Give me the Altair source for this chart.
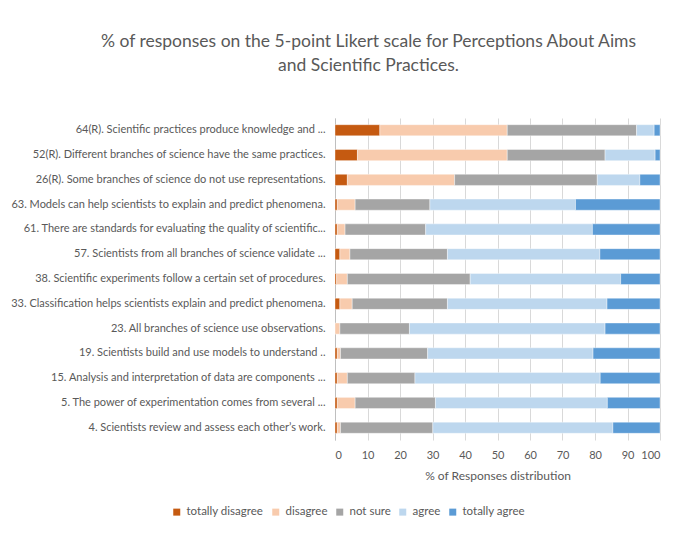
import altair as alt
import pandas as pd

items = [
    "64(R). Scientific practices produce knowledge and ...",
    "52(R). Different branches of science have the same practices.",
    "26(R). Some branches of science do not use representations.",
    "63. Models can help scientists to explain and predict phenomena.",
    "61. There are standards for evaluating the quality of scientific...",
    "57. Scientists from all branches of science validate ...",
    "38. Scientific experiments follow a certain set of procedures.",
    "33. Classification helps scientists explain and predict phenomena.",
    "23. All branches of science use observations.",
    "19. Scientists build and use models to understand ..",
    "15. Analysis and interpretation of data are components ...",
    "5. The power of experimentation comes from several ...",
    "4. Scientists review and assess each other\u2019s work.",
]
categories = ["totally disagree", "disagree", "not sure", "agree", "totally agree"]
colors = ["#C55A11", "#F8CBAD", "#A5A5A5", "#BDD7EE", "#5B9BD5"]

totally_disagree = [13.8, 6.9, 3.8, 0.7, 0.7, 1.5, 0.5, 1.5, 0.0, 0.7, 0.7, 0.7, 0.7]
disagree = [39.2, 46.1, 33.0, 5.5, 2.4, 3.1, 3.3, 3.8, 1.5, 1.0, 3.1, 5.5, 1.0]
not_sure = [39.8, 30.1, 43.9, 23.0, 24.8, 30.0, 37.8, 29.3, 21.4, 26.8, 20.8, 24.7, 28.4]
agree = [5.4, 15.4, 13.1, 44.8, 51.3, 46.9, 46.3, 49.1, 60.2, 50.9, 57.0, 52.9, 55.4]
totally_agree = [1.8, 1.5, 6.2, 26.0, 20.8, 18.5, 12.1, 16.3, 16.9, 20.6, 18.4, 16.2, 14.5]

series = [totally_disagree, disagree, not_sure, agree, totally_agree]
rows = []
for ci, (cat, vals) in enumerate(zip(categories, series)):
    for item, v in zip(items, vals):
        rows.append({"item": item, "response": cat, "value": v, "order": ci})
df = pd.DataFrame(rows)

FONT = "Lato"
GRAY = "#595959"

chart = (
    alt.Chart(df)
    .mark_bar(stroke="white", strokeWidth=0.4)
    .encode(
        x=alt.X(
            "value:Q",
            stack="zero",
            scale=alt.Scale(domain=[0, 100], nice=False),
            axis=alt.Axis(
                title="% of Responses distribution",
                values=list(range(0, 101, 10)),
                labelColor=GRAY,
                titleColor=GRAY,
                labelFont=FONT,
                titleFont=FONT,
                labelFontSize=11,
                titleFontSize=12,
                titleFontWeight="normal",
                domain=False,
                ticks=False,
                gridColor="#D9D9D9",
                labelPadding=9,
                titlePadding=10,
            ),
        ),
        y=alt.Y(
            "item:N",
            sort=items,
            scale=alt.Scale(paddingInner=0.55, paddingOuter=0.27),
            axis=alt.Axis(
                title=None,
                labelColor=GRAY,
                labelFont=FONT,
                labelFontSize=11,
                labelLimit=400,
                ticks=False,
                domainColor="#BFBFBF",
                labelPadding=10,
            ),
        ),
        color=alt.Color(
            "response:N",
            scale=alt.Scale(domain=categories, range=colors),
            sort=categories,
            legend=alt.Legend(
                title=None,
                orient="none",
                direction="horizontal",
                legendX=-164,
                legendY=388,
                symbolType="square",
                symbolSize=49,
                symbolStrokeWidth=0,
                symbolOffset=0,
                labelOffset=4,
                labelColor=GRAY,
                labelFont=FONT,
                labelFontSize=11.5,
                columnPadding=6,
            ),
        ),
        order=alt.Order("order:Q", sort="ascending"),
    )
    .properties(
        width=325,
        height=322,
        autosize=alt.AutoSizeParams(type="none"),
        padding={"left": 327, "top": 110, "right": 17, "bottom": 85},
        title=alt.TitleParams(
            text=[
                "% of responses  on the 5-point Likert scale for Perceptions About Aims",
                "and Scientific Practices.",
            ],
            fontSize=17.5,
            font=FONT,
            fontWeight="normal",
            color=GRAY,
            lineHeight=24,
            anchor="middle",
            dx=-129,
            offset=44,
        ),
    )
    .configure_view(stroke=None)
)

chart.save("out.html", embed_options={"renderer": "svg", "actions": False})
